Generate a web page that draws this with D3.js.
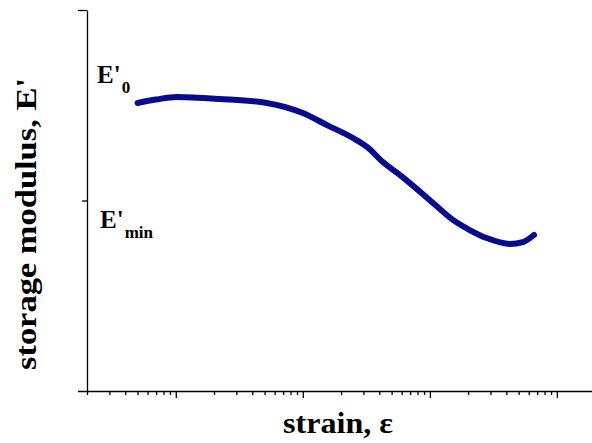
<!DOCTYPE html>
<meta charset="utf-8">
<script src="https://d3js.org/d3.v7.min.js"></script>
<style>
  body { margin: 0; background: #fff; }
  text { font-family: "Liberation Serif", "Times New Roman", serif; }
</style>
<svg width="592" height="443"></svg>

<script>
    // strain (log scale) and storage modulus (arbitrary units)
    const strain = [5.0e-5, 7.0e-5, 1.02e-4, 2.2e-4, 5.2e-4, 1.0e-3, 1.55e-3, 2.48e-3, 3.2e-3,
        4.27e-3, 6.1e-3, 1.06e-2, 1.52e-2, 2.06e-2, 2.8e-2, 4.27e-2, 5.4e-2, 6.6e-2];
    const modulus = [1.512, 1.530, 1.543, 1.533, 1.512, 1.459, 1.396, 1.328, 1.281,
        1.202, 1.123, 0.987, 0.898, 0.845, 0.803, 0.772, 0.782, 0.819];
    const yTicks = [1, 2];
    const levelLabels = ["E'0", "E'min"];

    const svg = d3.select("svg");

    const x = d3.scaleLog()
        .domain([2e-5, 0.189])
        .range([87, 592]);

    const y = d3.scaleLinear()
        .domain([0, 2])
        .range([391, 10]);

    // x axis with decade (long) and minor (short) ticks
    const xTicks = x.ticks().filter(d => d >= 2e-5 && d <= 0.189);
    const isDecade = d => Math.abs(Math.log10(d) - Math.round(Math.log10(d))) < 1e-6;

    const gx = svg.append("g")
        .attr("transform", "translate(0,391)")
        .call(d3.axisBottom(x).tickValues(xTicks).tickFormat("").tickSizeOuter(0));
    gx.select(".domain").attr("d", "M78,0.5H592").attr("stroke-width", 1.3);
    gx.selectAll(".tick line")
        .attr("y2", d => isDecade(d) ? 7 : 4)
        .attr("stroke-width", 1.3);

    const gy = svg.append("g")
        .attr("transform", "translate(87,0)")
        .call(d3.axisLeft(y).tickValues(yTicks).tickFormat("").tickSizeOuter(0));
    gy.select(".domain").attr("stroke-width", 1.3);
    gy.selectAll(".tick line")
        .attr("x2", d => d === 2 ? -9 : -5)
        .attr("stroke-width", 1.3);

    // E'0 and E'min labels
    const labelPos = [{x: 97, y: 83}, {x: 100, y: 228}];
    levelLabels.forEach((lab, i) => {
        const t = svg.append("text")
            .attr("x", labelPos[i].x)
            .attr("y", labelPos[i].y)
            .attr("font-size", 25)
            .attr("font-weight", "bold");
        t.append("tspan").text(lab.slice(0, 2));
        t.append("tspan")
            .attr("dy", 10)
            .attr("dx", 1)
            .attr("font-size", 17)
            .text(lab.slice(2));
    });

    // curve
    const line = d3.line()
        .x((d, i) => x(strain[i]))
        .y((d, i) => y(modulus[i]))
        .curve(d3.curveMonotoneX);

    svg.append("path")
        .datum(modulus)
        .attr("fill", "none")
        .attr("stroke", "#0a0a8c")
        .attr("stroke-width", 6)
        .attr("stroke-linecap", "round")
        .attr("stroke-linejoin", "round")
        .attr("d", line);

    // axis titles
    svg.append("text")
        .attr("x", 338)
        .attr("y", 433)
        .attr("text-anchor", "middle")
        .attr("font-size", 30)
        .attr("font-weight", "bold")
        .attr("textLength", 110)
        .attr("lengthAdjust", "spacingAndGlyphs")
        .text("strain, ε");

    svg.append("text")
        .attr("transform", "translate(36,224) rotate(-90)")
        .attr("text-anchor", "middle")
        .attr("font-size", 30)
        .attr("font-weight", "bold")
        .attr("textLength", 292)
        .attr("lengthAdjust", "spacingAndGlyphs")
        .text("storage modulus, E'");
</script>
